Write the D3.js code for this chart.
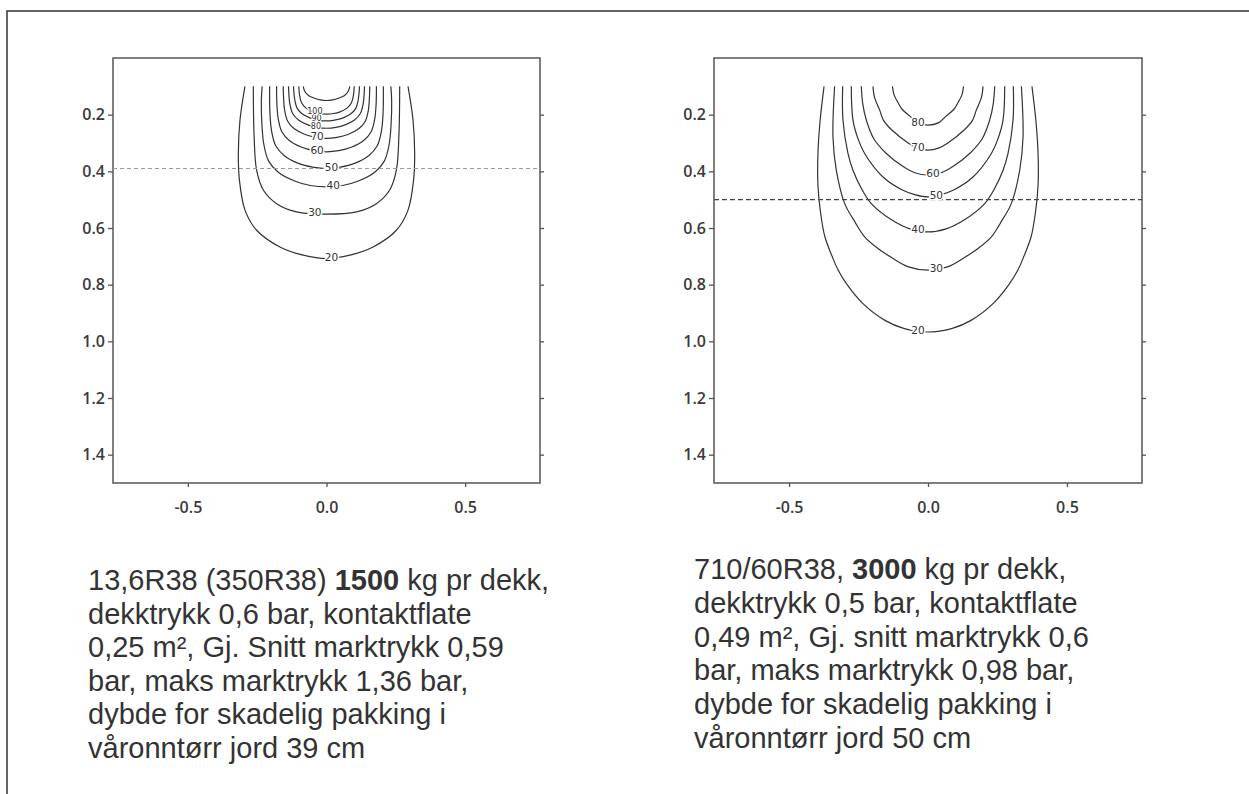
<!DOCTYPE html>
<html>
<head>
<meta charset="utf-8">
<script src="https://cdn.jsdelivr.net/npm/d3@7"></script>
<style>
  body { margin: 0; background: #fff; }
  svg { display: block; }
</style>
</head>
<body>
<svg id="chart" width="1249" height="794"></svg>
<script>
// Axis ticks (m)
const yTicks = [0.2, 0.4, 0.6, 0.8, 1.0, 1.2, 1.4];
const xTicks = [-0.5, 0.0, 0.5];
const depthDomain = [0, 1.5];
const widthDomain = [-0.77, 0.77];

// 13,6R38, 1500 kg: isobars (kPa). Right half of each line as [half-width m, depth m]
const levelsA = [20, 30, 40, 50, 60, 70, 80, 90, 100, 110];
const isobarsA = [
  [[0.294,0.10],[0.312,0.219],[0.318,0.337],[0.314,0.431],[0.294,0.537],[0.252,0.608],[0.168,0.667],[0.084,0.696],[0,0.708]],
  [[0.264,0.10],[0.261,0.278],[0.252,0.396],[0.228,0.466],[0.180,0.514],[0.108,0.543],[0,0.551]],
  [[0.232,0.10],[0.235,0.149],[0.233,0.234],[0.226,0.305],[0.209,0.363],[0.174,0.403],[0.115,0.434],[0.058,0.450],[0,0.455]],
  [[0.205,0.10],[0.204,0.196],[0.198,0.258],[0.183,0.310],[0.152,0.345],[0.101,0.372],[0.050,0.385],[0,0.390]],
  [[0.180,0.10],[0.179,0.161],[0.174,0.215],[0.161,0.260],[0.134,0.291],[0.089,0.315],[0.044,0.327],[0,0.331]],
  [[0.156,0.10],[0.155,0.136],[0.151,0.184],[0.140,0.223],[0.116,0.250],[0.077,0.270],[0.038,0.280],[0,0.284]],
  [[0.137,0.10],[0.136,0.125],[0.132,0.163],[0.122,0.196],[0.101,0.219],[0.067,0.236],[0.034,0.245],[0,0.248]],
  [[0.119,0.10],[0.118,0.117],[0.114,0.150],[0.106,0.177],[0.088,0.197],[0.058,0.212],[0.029,0.219],[0,0.222]],
  [[0.100,0.10],[0.097,0.133],[0.090,0.158],[0.075,0.176],[0.049,0.190],[0.025,0.196],[0,0.198]],
  [[0.084,0.10],[0.078,0.118],[0.065,0.132],[0.043,0.142],[0.022,0.148],[0,0.150]]
];
const labelXA = [0.018, -0.042, 0.024, 0.018, -0.034, -0.034, -0.038, -0.036, -0.042, null];
const limitA = 0.39;

// 710/60R38, 3000 kg
const levelsB = [20, 30, 40, 50, 60, 70, 80];
const isobarsB = [
  [[0.374,0.10],[0.388,0.219],[0.396,0.337],[0.396,0.45],[0.386,0.55],[0.371,0.631],[0.345,0.70],[0.323,0.749],[0.291,0.80],[0.234,0.867],[0.155,0.926],[0.085,0.955],[0,0.967]],
  [[0.336,0.10],[0.342,0.278],[0.330,0.396],[0.300,0.513],[0.262,0.580],[0.228,0.631],[0.180,0.672],[0.130,0.705],[0.070,0.737],[0,0.749]],
  [[0.307,0.10],[0.306,0.219],[0.288,0.337],[0.270,0.396],[0.240,0.460],[0.204,0.514],[0.130,0.572],[0.065,0.603],[0,0.614]],
  [[0.276,0.10],[0.270,0.219],[0.250,0.290],[0.228,0.337],[0.162,0.420],[0.090,0.467],[0.045,0.483],[0,0.490]],
  [[0.240,0.10],[0.235,0.160],[0.222,0.219],[0.195,0.285],[0.150,0.337],[0.088,0.384],[0.050,0.404],[0,0.413]],
  [[0.198,0.10],[0.192,0.140],[0.174,0.183],[0.160,0.220],[0.130,0.254],[0.070,0.301],[0.040,0.317],[0,0.325]],
  [[0.128,0.10],[0.122,0.130],[0.107,0.159],[0.094,0.180],[0.064,0.206],[0.039,0.228],[0,0.237]]
];
const labelXB = [-0.036, 0.03, -0.036, 0.03, 0.018, -0.036, -0.036];
const limitB = 0.50;

// Captions: each line is a list of [text, bold]
const captionA = [
  [["13,6R38 (350R38) ", false], ["1500", true], [" kg pr dekk,", false]],
  [["dekktrykk 0,6 bar, kontaktflate", false]],
  [["0,25 m², Gj. Snitt marktrykk 0,59", false]],
  [["bar, maks marktrykk 1,36 bar,", false]],
  [["dybde for skadelig pakking i", false]],
  [["våronntørr jord 39 cm", false]]
];
const captionB = [
  [["710/60R38, ", false], ["3000", true], [" kg pr dekk,", false]],
  [["dekktrykk 0,5 bar, kontaktflate", false]],
  [["0,49 m², Gj. snitt marktrykk 0,6", false]],
  [["bar, maks marktrykk 0,98 bar,", false]],
  [["dybde for skadelig pakking i", false]],
  [["våronntørr jord 50 cm", false]]
];

const svg = d3.select("#chart");

// page border (top and left edge)
svg.append("path")
  .attr("d", "M7,794V11H1249")
  .attr("fill", "none").attr("stroke", "#333").attr("stroke-width", 1.5);

function depthAt(half, w) {
  // depth on the lower part of an isobar at half-width w
  const aw = Math.abs(w);
  const pts = half.slice().reverse(); // from bottom upward
  for (let i = 1; i < pts.length; i++) {
    const [w0, d0] = pts[i - 1], [w1, d1] = pts[i];
    if (aw >= w0 && aw <= w1) {
      const t = (aw - w0) / (w1 - w0 || 1);
      return d0 + t * (d1 - d0);
    }
  }
  return pts[0][1];
}

function panel(opts) {
  const { left, right, top, bottom, levels, isobars, labelX, limit, dashColor, dashWidth, dash } = opts;
  const x = d3.scaleLinear().domain(widthDomain).range([left, right]);
  const y = d3.scaleLinear().domain(depthDomain).range([top, bottom]);
  const g = svg.append("g");

  const fmt = d => d3.format(".1f")(d).replace("\u2212", "-");

  const ay = g.append("g").attr("transform", `translate(${left},0)`)
    .call(d3.axisLeft(y).tickValues(yTicks).tickSize(5).tickPadding(3).tickFormat(fmt));
  const ay2 = g.append("g").attr("transform", `translate(${right},0)`)
    .call(d3.axisRight(y).tickValues(yTicks).tickSize(4).tickFormat(""));
  const ax = g.append("g").attr("transform", `translate(0,${bottom})`)
    .call(d3.axisBottom(x).tickValues(xTicks).tickSize(4).tickPadding(15).tickFormat(fmt));
  [ay, ay2, ax].forEach(a => {
    a.select(".domain").remove();
    a.selectAll(".tick line").attr("stroke", "#555").attr("stroke-width", 1.3);
    a.selectAll(".tick text")
      .attr("fill", "#3a3a3a")
      .style("font-family", "'Open Sans', sans-serif")
      .style("font-size", "16px")
      .style("font-weight", 600);
  });

  // frame
  g.append("rect")
    .attr("x", left).attr("y", top)
    .attr("width", right - left).attr("height", bottom - top)
    .attr("fill", "none").attr("stroke", "#555").attr("stroke-width", 1.5);

  // isobars
  const line = d3.line().x(p => x(p[0])).y(p => y(p[1])).curve(d3.curveCatmullRom.alpha(0.5));
  isobars.forEach(half => {
    const leftSide = half.map(([w, d]) => [-w, d]);
    const rightSide = half.slice(0, -1).reverse();
    g.append("path")
      .attr("d", line(leftSide.concat(rightSide)))
      .attr("fill", "none").attr("stroke", "#333").attr("stroke-width", 1.2);
  });

  // harmful compaction depth
  g.append("line")
    .attr("x1", left).attr("x2", right)
    .attr("y1", y(limit)).attr("y2", y(limit))
    .attr("stroke", dashColor).attr("stroke-width", dashWidth)
    .attr("stroke-dasharray", dash);

  // isobar labels (the tightly packed ones slightly smaller)
  levels.forEach((lv, i) => {
    if (labelX[i] == null) return;
    const lx = labelX[i];
    const d = depthAt(isobars[i], lx);
    const crowded = lv >= 80 && levels.length > 8;
    g.append("text")
      .attr("x", x(lx)).attr("y", y(d) - 1)
      .attr("text-anchor", "middle")
      .attr("dominant-baseline", "central")
      .attr("fill", "#333")
      .attr("stroke", "#fff").attr("stroke-width", crowded ? 2 : 3)
      .attr("paint-order", "stroke")
      .style("font-family", "'DejaVu Sans', sans-serif")
      .style("font-size", crowded ? "8px" : "10.5px")
      .text(lv);
  });
}

panel({ left: 113, right: 540, top: 58, bottom: 483, levels: levelsA, isobars: isobarsA,
        labelX: labelXA, limit: limitA, dashColor: "#9a9a9a", dashWidth: 1, dash: "4,3" });
panel({ left: 714, right: 1142, top: 58, bottom: 483, levels: levelsB, isobars: isobarsB,
        labelX: labelXB, limit: limitB, dashColor: "#444", dashWidth: 1.2, dash: "5,3" });

function caption(lines, x0, y0, step) {
  const t = svg.append("text")
    .attr("fill", "#333")
    .style("font-family", "'Liberation Sans', Arial, sans-serif")
    .style("font-size", "29px");
  lines.forEach((segs, i) => {
    segs.forEach(([txt, bold], j) => {
      const ts = t.append("tspan").text(txt).style("font-weight", bold ? 700 : 400);
      if (j === 0) ts.attr("x", x0).attr("y", y0 + i * step);
    });
  });
}
caption(captionA, 88, 590, 33.6);
caption(captionB, 694, 579, 33.8);
</script>
</body>
</html>
